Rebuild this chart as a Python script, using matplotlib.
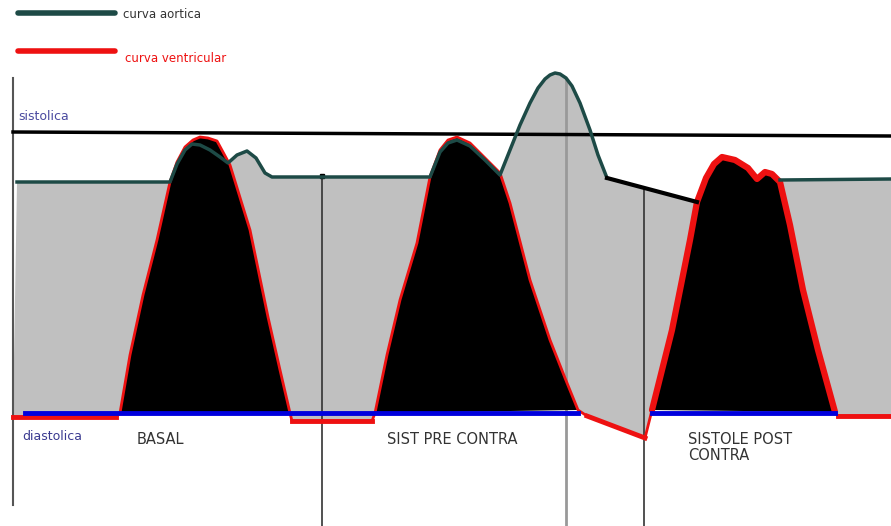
import matplotlib
matplotlib.use("Agg")
import matplotlib.pyplot as plt
import numpy as np

# horizontal position (time) and level (level grows downward)
aorta_x = [17, 170, 177, 185, 192, 200, 210, 220, 228, 237, 247, 256, 265, 272,
           430, 440, 448, 457, 470, 485, 500, 510, 520, 530, 538, 545, 550, 555, 560,
           566, 572, 580, 590, 598, 607, 697, 780, 891]
aorta_y = [182, 182, 164, 150, 144, 145, 150, 157, 163, 155, 151, 158, 173, 177,
           177, 152, 143, 140, 146, 160, 175, 150, 125, 103, 88, 79, 75, 73, 74,
           78, 86, 103, 130, 155, 178, 202, 180, 179]
# part of the aortic trace drawn in black
drop_x = [607, 697]
drop_y = [178, 202]

v1_x = [120, 130, 143, 157, 170, 177, 185, 193, 200, 208, 217, 230, 250, 268, 280, 290]
v1_y = [413, 355, 295, 240, 182, 162, 147, 140, 137, 138, 141, 165, 230, 317, 370, 413]
v2_x = [375, 387, 400, 417, 430, 440, 448, 457, 470, 485, 500, 510, 530, 550, 565, 578]
v2_y = [413, 355, 300, 243, 177, 150, 140, 137, 143, 158, 173, 203, 280, 340, 378, 410]
v3_x = [652, 662, 672, 682, 690, 697, 706, 714, 722, 735, 748, 757, 765, 772, 780,
        790, 803, 818, 835]
v3_y = [410, 370, 330, 280, 240, 202, 178, 164, 157, 160, 168, 179, 172, 174, 182,
        225, 290, 350, 412]
# ventricular trace between beats
pre_x, pre_y = [13, 116], [417, 417]
gap1_x, gap1_y = [292, 372], [421, 421]
gap2_x, gap2_y = [587, 645], [416, 438]
post_x, post_y = [838, 891], [416, 416]

systolic_x, systolic_y = [13, 891], [132, 136]
diastolic_level = 413
diastolic_spans = [(25, 578), (652, 835)]
markers_x = [322, 566, 644]
markers_top = [176, 80, 190]

labels = ["BASAL", "SIST PRE CONTRA", "SISTOLE POST\nCONTRA"]
labels_x = [137, 387, 688]

TEAL = "#1d4a46"
RED = "#ee1111"
GRAY = "#c0c0c0"
BLUE = "#0000dd"

vent_x = pre_x + v1_x + gap1_x + v2_x + gap2_x + v3_x + post_x
vent_y = pre_y + v1_y + gap1_y + v2_y + gap2_y + v3_y + post_y

fig = plt.figure(figsize=(8.91, 5.26), dpi=100)
ax = fig.add_axes([0, 0, 1, 1])
ax.set_xlim(0, 891)
ax.set_ylim(526, 0)
ax.axis("off")

# gray area between aortic and ventricular traces
ax.fill(aorta_x + vent_x[::-1], aorta_y + vent_y[::-1], color=GRAY, lw=0, zorder=1)

ax.plot([13, 13], [78, 505], color="#555555", lw=1.5, zorder=2)
for mx, top in zip(markers_x, markers_top):
    c = "#999999" if mx == 566 else "#333333"
    ax.plot([mx, mx], [top, 526], color=c, lw=2 if mx == 566 else 1.2, zorder=2)
ax.plot(markers_x[0], markers_top[0], "s", color="black", ms=3, zorder=6)

ax.plot(systolic_x, systolic_y, color="black", lw=2.5, zorder=2)

for vx, vy in [(v1_x, v1_y), (v2_x, v2_y), (v3_x, v3_y)]:
    ax.fill(vx, vy, color="black", lw=0, zorder=3)

ax.plot(vent_x, vent_y, color=RED, lw=2, zorder=4, solid_joinstyle="round")
ax.plot(pre_x, pre_y, color=RED, lw=3.5, zorder=4)
ax.plot(gap1_x, gap1_y, color=RED, lw=3.5, zorder=4)
ax.plot(gap2_x, gap2_y, color=RED, lw=3.5, zorder=4)
ax.plot(post_x, post_y, color=RED, lw=3.5, zorder=4)
ax.plot(v3_x, v3_y, color=RED, lw=4.5, zorder=4, solid_capstyle="round")

for a, b in diastolic_spans:
    ax.plot([a, b], [diastolic_level, diastolic_level], color=BLUE, lw=3.5, zorder=5)

ax.plot(aorta_x[:35], aorta_y[:35], color=TEAL, lw=2.5, zorder=6, solid_joinstyle="round")
ax.plot(aorta_x[36:], aorta_y[36:], color=TEAL, lw=2.5, zorder=6)
ax.plot(drop_x, drop_y, color="black", lw=3, zorder=6)

# legend
ax.plot([18, 115], [13, 13], color=TEAL, lw=4, solid_capstyle="round")
ax.plot([18, 115], [51, 51], color=RED, lw=4, solid_capstyle="round")
ax.text(123, 15, "curva aortica", fontsize=8.5, color="#333333", va="center")
ax.text(125, 58, "curva ventricular", fontsize=8.5, color=RED, va="center")

ax.text(18, 116, "sistolica", fontsize=9, color="#4a4aa0", va="center")
ax.text(22, 437, "diastolica", fontsize=9, color="#3a3a90", va="center")
for lab, lx in zip(labels, labels_x):
    ax.text(lx, 432, lab, fontsize=10.5, color="#333333", va="top", linespacing=1.05)

fig.savefig("out.png", dpi=100)
